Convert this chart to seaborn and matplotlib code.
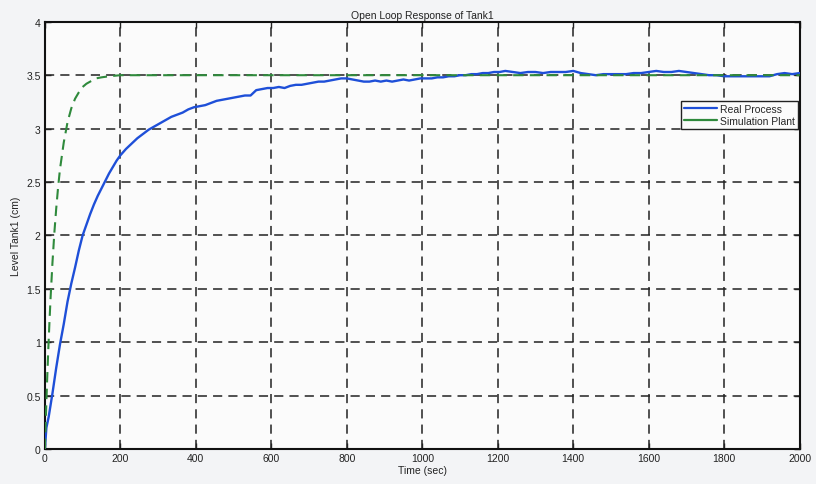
import numpy as np
import pandas as pd
import matplotlib
matplotlib.use("Agg")
import matplotlib.pyplot as plt
import seaborn as sns
from matplotlib.lines import Line2D

# ---- data ----
t_real = [0, 4, 10, 20, 30, 40, 50, 60, 70, 80, 90, 100, 110, 120, 130, 140, 150, 160, 170, 180,
          190, 200, 215, 230, 245, 260, 275, 290, 305, 320, 335, 350, 365, 380, 395, 410, 425, 440,
          455, 470, 485, 500, 515, 530, 545, 560, 575, 590, 605, 620, 635, 650, 665, 680, 695, 710,
          725, 740, 755, 770, 785, 800, 815, 830, 845, 860, 875, 890, 905, 920, 935, 950, 965, 980,
          995, 1010, 1025, 1040, 1055, 1070, 1085, 1100, 1115, 1130, 1145, 1160, 1175, 1190, 1205,
          1220, 1240, 1260, 1280, 1300, 1320, 1340, 1360, 1380, 1400, 1420, 1440, 1460, 1480, 1500,
          1520, 1540, 1560, 1580, 1600, 1620, 1640, 1660, 1680, 1700, 1720, 1740, 1760, 1780, 1800,
          1820, 1840, 1860, 1880, 1900, 1920, 1940, 1960, 1980, 2000]
v_real = [0.0, 0.2, 0.3, 0.52, 0.76, 0.98, 1.17, 1.38, 1.55, 1.70, 1.86, 2.0, 2.1, 2.2, 2.29, 2.37,
          2.44, 2.51, 2.58, 2.64, 2.70, 2.75, 2.81, 2.86, 2.91, 2.95, 2.99, 3.02, 3.05, 3.08, 3.11,
          3.13, 3.15, 3.18, 3.20, 3.21, 3.22, 3.24, 3.26, 3.27, 3.28, 3.29, 3.30, 3.31, 3.31, 3.36,
          3.37, 3.38, 3.38, 3.39, 3.38, 3.40, 3.41, 3.41, 3.42, 3.43, 3.44, 3.44, 3.45, 3.46, 3.47,
          3.47, 3.46, 3.45, 3.44, 3.44, 3.45, 3.44, 3.45, 3.44, 3.45, 3.46, 3.45, 3.46, 3.47, 3.47,
          3.47, 3.48, 3.48, 3.49, 3.49, 3.50, 3.50, 3.51, 3.51, 3.52, 3.52, 3.53, 3.53, 3.54, 3.53,
          3.52, 3.53, 3.53, 3.52, 3.53, 3.53, 3.53, 3.54, 3.52, 3.51, 3.50, 3.51, 3.51, 3.51, 3.51,
          3.52, 3.52, 3.53, 3.54, 3.53, 3.53, 3.54, 3.53, 3.52, 3.51, 3.50, 3.50, 3.49, 3.49, 3.49,
          3.49, 3.49, 3.49, 3.49, 3.51, 3.52, 3.51, 3.52]

t_sim = [0, 3, 6, 9, 12, 15, 20, 25, 30, 35, 40, 50, 60, 70, 80, 90, 100, 110, 120, 135, 150, 170,
         200, 400, 800, 1200, 1600, 2000]
v_sim = [0.0, 0.34, 0.65, 0.93, 1.18, 1.41, 1.74, 2.02, 2.25, 2.45, 2.62, 2.87, 3.06, 3.19, 3.28,
         3.34, 3.39, 3.42, 3.44, 3.47, 3.48, 3.49, 3.50, 3.50, 3.50, 3.50, 3.50, 3.50]

x_ticks = [0, 200, 400, 600, 800, 1000, 1200, 1400, 1600, 1800, 2000]
y_ticks = [0, 0.5, 1, 1.5, 2, 2.5, 3, 3.5, 4]
y_tick_labels = ["0", "0.5", "1", "1.5", "2", "2.5", "3", "3.5", "4"]
series_names = ["Real Process", "Simulation Plant"]
title = "Open Loop Response of Tank1"
xlabel = "Time (sec)"
ylabel = "Level Tank1 (cm)"

sns.set_theme(style="white")
plt.rcParams["font.family"] = ["Liberation Sans", "DejaVu Sans"]

df_real = pd.DataFrame({"t": t_real, "v": v_real})
df_sim = pd.DataFrame({"t": t_sim, "v": v_sim})

blue = "#1e4fd8"
green = "#2f8a3c"

fig = plt.figure(figsize=(8.16, 4.85), dpi=100, facecolor="#f3f4f6")
ax = fig.add_axes([0.055, 0.072, 0.925, 0.881])
ax.set_facecolor("#fbfbfb")

sns.lineplot(data=df_real, x="t", y="v", ax=ax, color=blue, linewidth=1.7, zorder=3)
sns.lineplot(data=df_sim, x="t", y="v", ax=ax, color=green, linewidth=1.5, zorder=4,
             dashes=False)
ax.lines[-1].set_dashes((5, 3))

ax.set_xlim(0, 2000)
ax.set_ylim(0, 4)
ax.set_xticks(x_ticks)
ax.set_xticklabels([str(v) for v in x_ticks])
ax.set_yticks(y_ticks)
ax.set_yticklabels(y_tick_labels)

ax.grid(True, color="#222222", linestyle=(0, (6, 4)), linewidth=1.1, zorder=1)
ax.set_axisbelow(True)
ax.tick_params(direction="in", length=4, width=1, labelsize=7.5, colors="#222222", pad=3,
               top=True, right=True, bottom=True, left=True)
for s in ax.spines.values():
    s.set_color("#111111")
    s.set_linewidth(1.5)

ax.set_title(title, fontsize=7.5, pad=3, color="#222222")
ax.set_xlabel(xlabel, fontsize=7.5, labelpad=1, color="#222222")
ax.set_ylabel(ylabel, fontsize=7.5, labelpad=4, color="#222222")

handles = [Line2D([], [], color=blue, lw=1.6), Line2D([], [], color=green, lw=1.6)]
leg = ax.legend(handles, series_names, loc="upper right", bbox_to_anchor=(0.998, 0.815),
                fontsize=7.5, frameon=True, fancybox=False, edgecolor="#222222",
                framealpha=1, facecolor="#fbfbfb", handlelength=3.2, handletextpad=0.3,
                borderpad=0.3, labelspacing=0.2, borderaxespad=0)
leg.get_frame().set_linewidth(1.0)

fig.savefig("out.png", dpi=100, facecolor=fig.get_facecolor())
